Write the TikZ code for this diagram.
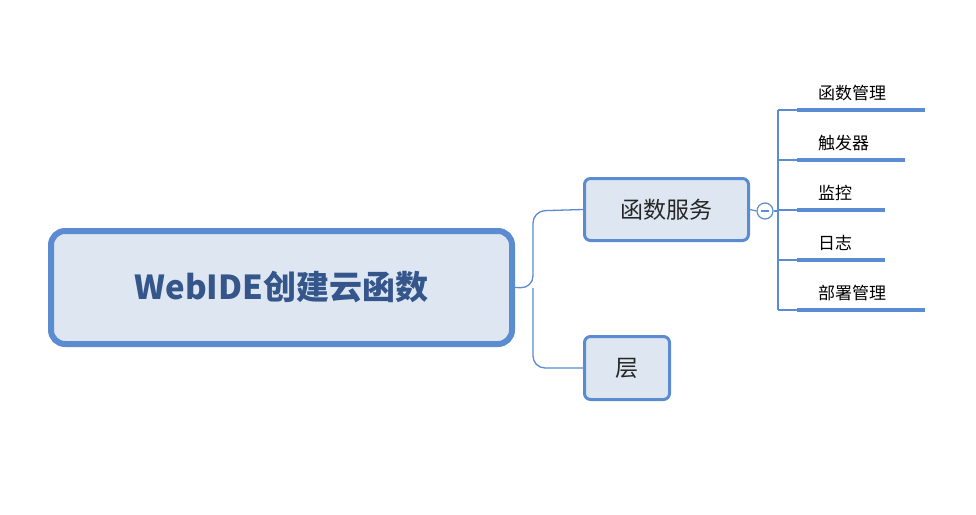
\documentclass[tikz,border=0pt]{standalone}
\usepackage{fontspec}
\setmainfont{Noto Sans CJK SC}
\newfontfamily\cjkb[BoldFont={Noto Sans CJK SC Bold}]{Noto Sans CJK SC}
\definecolor{bord}{HTML}{5B8BD0}
\definecolor{fillc}{HTML}{DDE6F1}
\definecolor{txt}{HTML}{34568B}
\begin{document}
\begin{tikzpicture}[x=1pt,y=-1pt,
  conn/.style={draw=bord,line width=1.3pt,rounded corners=12pt},
  child/.style={draw=bord,fill=fillc,line width=3pt,rounded corners=6pt,inner sep=0pt,font=\fontsize{23}{26}\selectfont,text=black!85},
  leaf/.style={anchor=south west,inner sep=0pt,font=\fontsize{17}{20}\selectfont},
  uline/.style={draw=bord,line width=4pt}]
\useasboundingbox (0,0) rectangle (976,514);
\node[draw=bord,fill=fillc,line width=6pt,rounded corners=14pt,minimum width=461pt,minimum height=113pt,font=\fontsize{33}{38}\selectfont\bfseries,text=txt] (main) at (281.5,287.5) {WebIDE创建云函数};
\node[child,minimum width=164pt,minimum height=62pt] (c1) at (666.5,209.5) {函数服务};
\node[child,minimum width=85pt,minimum height=63pt] (c2) at (627,368) {层};
\coordinate (j) at (533,288);
\draw[conn] (main.east) -- (j) -- (533,211) -- (c1.west);
\draw[conn] (j) -- (533,368) -- (c2.west);
\node[draw=bord,fill=white,line width=1.2pt,circle,minimum size=16pt,inner sep=0pt] (m) at (765,211) {};
\draw[bord,line width=1.2pt] (761,211) -- (769,211);
\draw[bord,line width=1.2pt] (c1.east) -- (m.west);
\coordinate (k) at (778,211);
\draw[bord,line width=1.3pt] (m.east) -- (k);
\foreach \y/\t/\w [count=\i] in {110/函数管理/925, 160/触发器/905, 210/监控/885, 260/日志/885, 310/部署管理/925}{
  \coordinate (s\i) at (797,\y);
  \coordinate (e\i) at (\w,\y);
  \draw[uline] (s\i) -- (e\i);
  \node[leaf] (l\i) at (818,\y-9) {\t};
}
\draw[bord,line width=1.3pt] (778,110) -- (778,310);
\foreach \i in {1,...,5}{\draw[bord,line width=1.3pt] (778,0|-s\i) -- (s\i);}
\end{tikzpicture}
\end{document}
